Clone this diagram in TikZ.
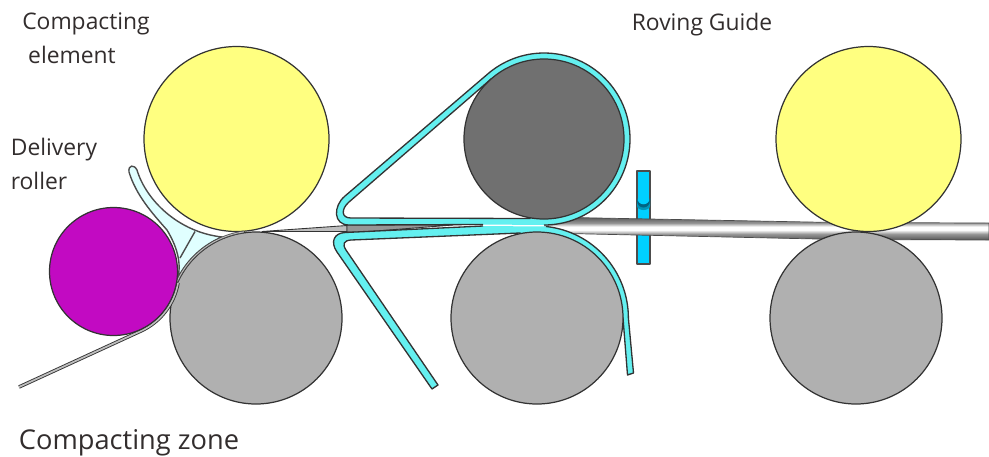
\documentclass[tikz,border=0pt]{standalone}
\usepackage{xcolor}
\usepackage{fontspec}
\setmainfont{Open Sans}
\definecolor{rollyellow}{RGB}{255,255,128}
\definecolor{rollgray}{RGB}{176,176,176}
\definecolor{rolldark}{RGB}{112,112,112}
\definecolor{rollpurple}{RGB}{194,10,194}
\definecolor{apronblue}{RGB}{100,240,240}
\definecolor{guideblue}{RGB}{0,208,255}
\definecolor{guidemid}{RGB}{0,150,185}
\definecolor{guidedark}{RGB}{0,100,130}
\definecolor{elemblue}{RGB}{224,255,255}
\definecolor{labelgray}{RGB}{50,45,45}
\definecolor{rovA}{RGB}{85,85,85}
\definecolor{rovB}{RGB}{150,150,150}
\definecolor{strandgray}{RGB}{190,190,190}
\pgfdeclareverticalshading{rovingshade}{100bp}{color(0bp)=(rovA); color(25bp)=(rovA); color(38bp)=(rovB); color(47bp)=(white); color(54bp)=(white); color(62bp)=(rovB); color(75bp)=(rovA); color(100bp)=(rovA)}
\tikzset{
  roller/.style={draw=black!80,line width=0.7pt},
  apron/.style={draw=black!80,fill=apronblue,line width=0.75pt},
  txt/.style={text=labelgray,inner sep=0pt,font=\fontsize{13}{16}\selectfont},
}
\begin{document}
\begin{tikzpicture}[x=0.2mm,y=0.2mm,yscale=-1,line join=round]
  \useasboundingbox (0,0) rectangle (989,456);
  \coordinate (CY1) at (236.5,139);
  \coordinate (CY2) at (868.5,139);
  \coordinate (CD) at (544,139);
  \coordinate (CG1) at (256,318);
  \coordinate (CG2) at (537,318);
  \coordinate (CG3) at (856,318);
  \coordinate (CP) at (113.5,271.5);
  % roving guide
  \draw[fill=guideblue,draw=black!70,line width=0.7pt] (637,171) rectangle (650,264);
  \fill[guidemid] (637,198) arc[start angle=180,end angle=0,radius=6.5] -- (650,206) arc[start angle=0,end angle=180,x radius=6.5,y radius=4] -- cycle;
  \fill[guidedark] (637,198) arc[start angle=180,end angle=0,radius=6.5] -- (650,201) arc[start angle=0,end angle=180,radius=6.5] -- cycle;
  % roving
  \draw[shading=rovingshade,draw=black!70,line width=0.4pt] (545,217) -- (835,222.5) -- (989,223) -- (989,240) -- (840,239.5) -- (545,233) -- cycle;
  % thin strand into the first nip
  \draw[fill=strandgray,draw=black!80,line width=0.5pt] (262,231.5) -- (347,225.5) -- (347,231.5) -- cycle;
  \draw[fill=rovB,draw=black!80,line width=0.5pt] (347,225) -- (453,225) -- (363,232) -- (347,232) -- cycle;
  % upper apron
  \path[apron] ([shift={(90:86)}]CD) arc[start angle=90,end angle=-131,radius=86] -- (345,196) .. controls (333,206) and (333,225) .. (349,225) -- (483,224.5);
  \draw[fill=white,draw=black!80,line width=0.75pt] (491.5,78.6) -- (349,202) .. controls (341,209) and (341,218) .. (351,218) -- (530,218.5) -- cycle;
  % lower apron
  \path[apron] (546,226.5) arc[start angle=-84,end angle=0,radius=92] -- (633.5,373) -- (627.5,375) -- (623,318) -- (520,233) -- (351,240) .. controls (344,240.5) and (342,244) .. (346,250) -- (438,385) -- (432,389) -- (337,252) .. controls (330,242) and (334,233) .. (345,232.5) -- (483,226);
  % compacting element
  \draw[fill=elemblue,draw=black!70,line width=0.8pt] (137,170) .. controls (146,200) and (178,232) .. (222,237) arc[start angle=-112.8,end angle=-153,radius=88] .. controls (182,262) and (176,245) .. (167,230) .. controls (152,213) and (136,195) .. (129,172) .. controls (128,165) and (134,164) .. (137,170) -- cycle;
  \draw[draw=black!70,line width=0.8pt] (195,231.5) -- (180,258);
  % rollers
  \draw[roller,fill=rollyellow] (CY1) circle (92.5);
  \draw[roller,fill=rollyellow] (CY2) circle (92.5);
  \draw[roller,fill=rolldark] (CD) circle (80);
  \draw[roller,fill=rollgray] (CG1) circle (86);
  \draw[roller,fill=rollgray] (CG2) circle (86);
  \draw[roller,fill=rollgray] (CG3) circle (86);
  % strand leaving the delivery roller
  \draw[black!80,line width=2pt] (19,387) -- ([shift={(65:65.5)}]CP) arc[start angle=65,end angle=10,radius=65.5];
  \draw[strandgray,line width=1pt] (19,387) -- ([shift={(65:65.5)}]CP) arc[start angle=65,end angle=10,radius=65.5];
  \draw[black!70,line width=1.4pt] ([shift={(-155:87)}]CG1) arc[start angle=-155,end angle=-98,radius=87];
  \draw[strandgray,line width=0.5pt] ([shift={(-155:87)}]CG1) arc[start angle=-155,end angle=-98,radius=87];
  \draw[roller,fill=rollpurple] (CP) circle (64);
  % labels
  \node[txt] (LCE1) at (86,24) {Compacting};
  \node[txt] (LCE2) at (72,55) {element};
  \node[txt] (LDR1) at (54,150) {Delivery};
  \node[txt] (LDR2) at (39,181) {roller};
  \node[txt] (LRG) at (702,25) {Roving Guide};
  \node[txt,font=\fontsize{15.5}{18}\selectfont] (LCZ) at (129,443) {Compacting zone};
\end{tikzpicture}
\end{document}
